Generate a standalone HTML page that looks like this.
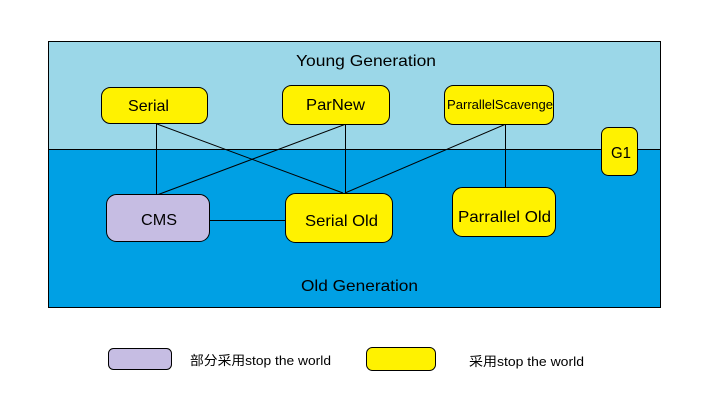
<!DOCTYPE html>
<html><head><meta charset="utf-8"><style>
html,body{margin:0;padding:0;background:#fff;width:720px;height:410px;overflow:hidden}
svg text{font-family:"Liberation Sans","Noto Sans CJK SC",sans-serif;fill:#000}
</style></head><body>
<svg width="720" height="410" viewBox="0 0 720 410" xmlns="http://www.w3.org/2000/svg">
<rect x="48.5" y="41.5" width="612" height="108" fill="#9bd7e8"/>
<rect x="48.5" y="149.5" width="612" height="158" fill="#00a0e4"/>
<rect x="48.5" y="41.5" width="612" height="266" fill="none" stroke="#000" stroke-width="1"/>
<line x1="48" y1="149.5" x2="661" y2="149.5" stroke="#000"/>
<text x="296" y="66" font-size="16" textLength="140" lengthAdjust="spacingAndGlyphs">Young Generation</text>
<text x="301" y="291" font-size="16" textLength="117" lengthAdjust="spacingAndGlyphs">Old Generation</text>
<g stroke="#000" stroke-width="1">
<line x1="156.5" y1="124" x2="156.5" y2="195"/>
<line x1="157" y1="124" x2="343" y2="193"/>
<line x1="346" y1="124" x2="157" y2="195"/>
<line x1="345.5" y1="124" x2="345.5" y2="193"/>
<line x1="506" y1="124" x2="345" y2="193"/>
<line x1="505.5" y1="124" x2="505.5" y2="187"/>
<line x1="209" y1="220.5" x2="285" y2="220.5"/>
</g>
<g stroke="#000" stroke-width="1">
<rect x="101.5" y="87.5" width="106" height="36" rx="9" fill="#fff200"/>
<rect x="282.5" y="85.5" width="107" height="39" rx="9" fill="#fff200"/>
<rect x="444.5" y="85.5" width="109" height="39" rx="9" fill="#fff200"/>
<rect x="601.5" y="127.5" width="36" height="48" rx="7" fill="#fff200"/>
<rect x="106.5" y="194.5" width="103" height="47" rx="10" fill="#c6bde3"/>
<rect x="285.5" y="193.5" width="107" height="49" rx="10" fill="#fff200"/>
<rect x="452.5" y="187.5" width="103" height="49" rx="10" fill="#fff200"/>
<rect x="108.5" y="348.5" width="63" height="21" rx="5" fill="#c6bde3"/>
<rect x="366.5" y="347.5" width="69" height="23" rx="6" fill="#fff200"/>
</g>
<text x="128" y="111" font-size="16" textLength="41" lengthAdjust="spacingAndGlyphs">Serial</text>
<text x="306" y="110" font-size="16" textLength="59" lengthAdjust="spacingAndGlyphs">ParNew</text>
<text x="447" y="109" font-size="13" textLength="106" lengthAdjust="spacingAndGlyphs">ParrallelScavenge</text>
<text x="611" y="158" font-size="16" textLength="20" lengthAdjust="spacingAndGlyphs">G1</text>
<text x="141" y="225" font-size="16" textLength="36" lengthAdjust="spacingAndGlyphs">CMS</text>
<text x="305" y="226" font-size="16" textLength="73" lengthAdjust="spacingAndGlyphs">Serial Old</text>
<text x="458" y="222" font-size="16" textLength="93" lengthAdjust="spacingAndGlyphs">Parrallel Old</text>
<text x="190" y="365" font-size="13" textLength="141" lengthAdjust="spacingAndGlyphs">部分采用stop the world</text>
<text x="469" y="366" font-size="13" textLength="115" lengthAdjust="spacingAndGlyphs">采用stop the world</text>
</svg>
</body></html>
